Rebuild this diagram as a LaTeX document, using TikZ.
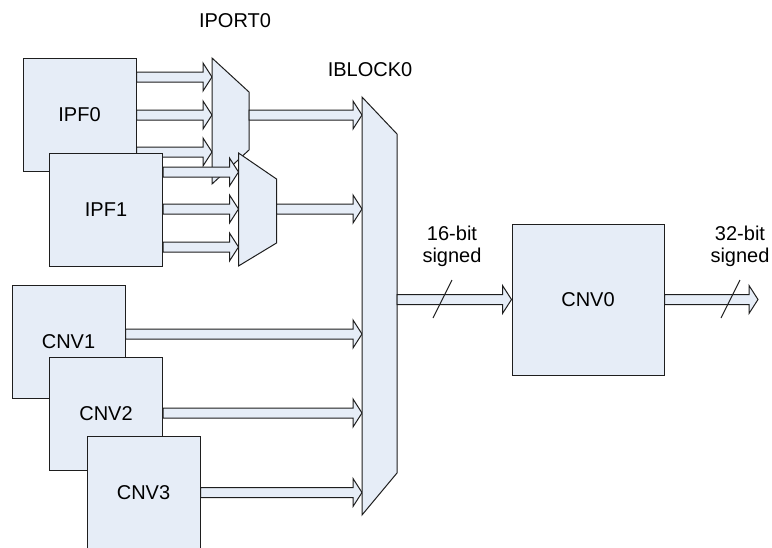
\documentclass[tikz,border=0pt]{standalone}
\usepackage{fontspec}
\setmainfont{Liberation Sans}
\usetikzlibrary{calc}
\definecolor{blockfill}{HTML}{E6EDF7}
\definecolor{edge}{HTML}{1E1E1E}

\begin{document}
\begin{tikzpicture}[x=0.5pt,y=-0.5pt,font=\fontsize{10}{11}\selectfont,
  blk/.style={draw=edge,fill=blockfill,line width=0.5pt,inner sep=0pt,
    minimum width=56.5pt,minimum height=56.5pt},
  unit/.style={draw=edge,fill=blockfill,line width=0.5pt,line join=miter},
  lbl/.style={inner sep=0pt,align=center},
  bus/.style={draw=edge,fill=blockfill,line width=0.5pt,line join=miter,
    to path={let \p1=(\tikztostart), \p2=(\tikztotarget) in
      (\x1,\y2+2.5pt) -- (\x2-4.5pt,\y2+2.5pt) -- (\x2-4.5pt,\y2+7pt)
      -- (\x2,\y2) -- (\x2-4.5pt,\y2-7pt) -- (\x2-4.5pt,\y2-2.5pt)
      -- (\x1,\y2-2.5pt) -- cycle}}]
\useasboundingbox (0,0) rectangle (772,547);

\node[lbl] (iport) at (235,21) {IPORT0};
\node[lbl] (iblock) at (370,70) {IBLOCK0};

\node[blk] (ipf0) at (79.5,114.5) {IPF0};
\coordinate (p0a) at (212,77);
\coordinate (p0b) at (212,115);
\coordinate (p0c) at (212,152);
\draw[bus] (ipf0.east) to (p0a);
\draw[bus] (ipf0.east) to (p0b);
\draw[bus] (ipf0.east) to (p0c);
\draw[unit] (212,58) -- (249,92) coordinate (mux0ne) -- (249,150) -- (212,184) -- cycle;

\node[blk] (ipf1) at (106,209.5) {IPF1};
\coordinate (p1a) at (238.5,172);
\coordinate (p1b) at (238.5,209);
\coordinate (p1c) at (238.5,247);
\draw[bus] (ipf1.east) to (p1a);
\draw[bus] (ipf1.east) to (p1b);
\draw[bus] (ipf1.east) to (p1c);
\draw[unit] (238.5,153) -- (276.5,179) coordinate (mux1ne) -- (276.5,243) -- (238.5,266) -- cycle;

\node[blk] (cnv1) at (68.5,341.5) {CNV1};
\node[blk] (cnv2) at (106,413.5) {CNV2};
\node[blk] (cnv3) at (143.5,492.5) {CNV3};

\coordinate (b0) at (362,115);
\coordinate (b1) at (362,209);
\coordinate (b2) at (362,334);
\coordinate (b3) at (362,413);
\coordinate (b4) at (362,492.5);
\draw[bus] (mux0ne) to (b0);
\draw[bus] (mux1ne) to (b1);
\draw[bus] (cnv1.east) to (b2);
\draw[bus] (cnv2.east) to (b3);
\draw[bus] (cnv3.east) to (b4);
\draw[unit] (362,97) -- (397,134) coordinate (iblkne) -- (397,473) -- (362,515) -- cycle;

\node[blk,minimum width=76pt,minimum height=75.5pt] (cnv0) at (588,299.5) {CNV0};
\coordinate (out) at (758,299.5);
\draw[bus] (iblkne) to (cnv0.west);
\draw[bus] (cnv0.east) to (out);
\draw[edge,line width=0.5pt] (433,318) -- (452,280);
\draw[edge,line width=0.5pt] (721,318) -- (740,280);
\node[lbl] (inwidth) at (452,246) {16-bit\\signed};
\node[lbl] (outwidth) at (740,246) {32-bit\\signed};
\end{tikzpicture}
\end{document}
